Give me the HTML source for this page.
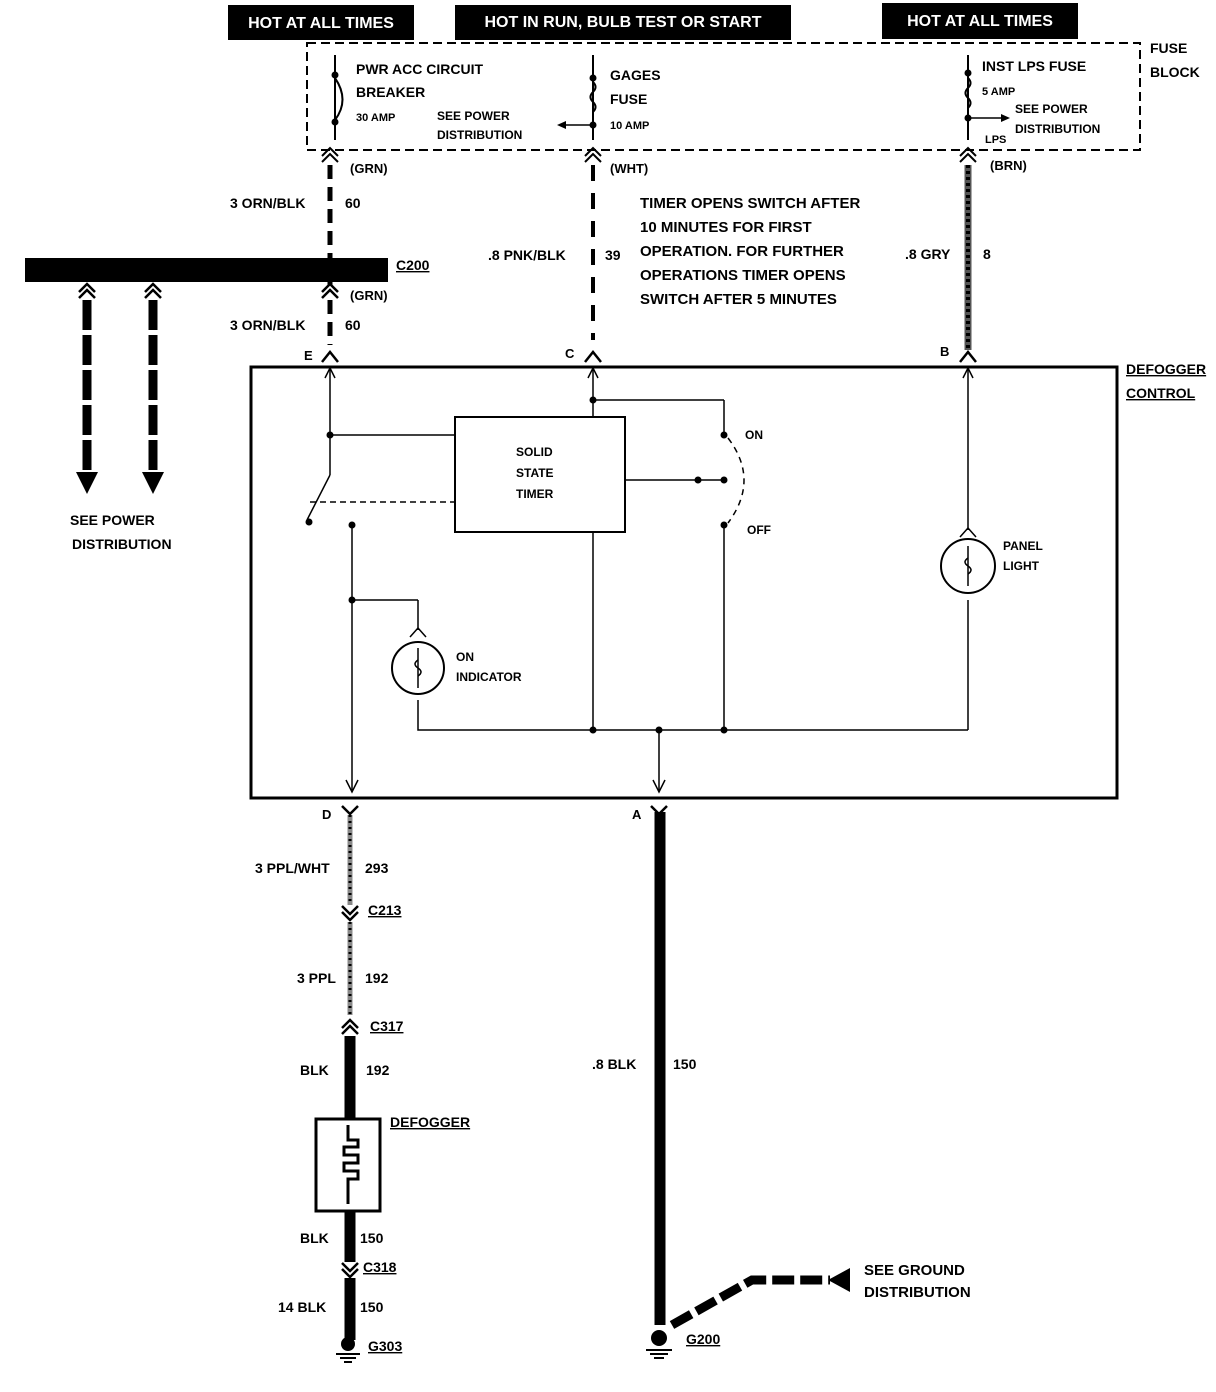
<!DOCTYPE html>
<html><head><meta charset="utf-8"><style>
html,body{margin:0;padding:0;background:#fff}
svg{display:block}
text{font-family:"Liberation Sans",sans-serif;font-weight:bold;fill:#000}
</style></head><body>
<svg width="1216" height="1392" viewBox="0 0 1216 1392" xmlns="http://www.w3.org/2000/svg">
<!-- header boxes -->
<rect x="228" y="5" width="186" height="35" fill="#000"/>
<text x="321" y="28" font-size="16" text-anchor="middle" fill="#fff" style="fill:#fff">HOT AT ALL TIMES</text>
<rect x="455" y="5" width="336" height="35" fill="#000"/>
<text x="623" y="27" font-size="16" text-anchor="middle" style="fill:#fff">HOT IN RUN,  BULB TEST OR START</text>
<rect x="882" y="3" width="196" height="36" fill="#000"/>
<text x="980" y="26" font-size="16" text-anchor="middle" style="fill:#fff">HOT AT ALL TIMES</text>

<!-- fuse block dashed -->
<rect x="307" y="43" width="833" height="107" fill="none" stroke="#000" stroke-width="2" stroke-dasharray="9,5"/>
<text x="1150" y="53" font-size="14">FUSE</text>
<text x="1150" y="77" font-size="14">BLOCK</text>
<!-- circuit breaker -->
<line x1="335" y1="55" x2="335" y2="140" stroke="#000" stroke-width="2"/>
<circle cx="335" cy="75" r="3.5"/><circle cx="335" cy="122" r="3.5"/>
<path d="M335 78 Q350 100 335 120" fill="none" stroke="#000" stroke-width="2"/>
<text x="356" y="74" font-size="14">PWR ACC CIRCUIT</text>
<text x="356" y="97" font-size="14">BREAKER</text>
<text x="356" y="121" font-size="11">30 AMP</text>
<text x="437" y="120" font-size="12">SEE POWER</text>
<text x="437" y="139" font-size="12">DISTRIBUTION</text>
<!-- gages fuse -->
<line x1="593" y1="55" x2="593" y2="140" stroke="#000" stroke-width="2"/>
<circle cx="593" cy="78" r="3.5"/><circle cx="593" cy="125" r="3.5"/>
<path d="M593 82 q5 5 0 10 q-5 5 0 10 q5 5 0 10" fill="none" stroke="#000" stroke-width="2"/>
<line x1="565" y1="125" x2="593" y2="125" stroke="#000" stroke-width="1.5"/>
<path d="M557 125 l9 -4 v8z"/>
<text x="610" y="80" font-size="14">GAGES</text>
<text x="610" y="104" font-size="14">FUSE</text>
<text x="610" y="129" font-size="11">10 AMP</text>
<!-- inst lps -->
<line x1="968" y1="55" x2="968" y2="140" stroke="#000" stroke-width="2"/>
<circle cx="968" cy="73" r="3.5"/><circle cx="968" cy="118" r="3.5"/>
<path d="M968 78 q5 5 0 10 q-5 5 0 10 q5 5 0 10" fill="none" stroke="#000" stroke-width="2"/>
<line x1="968" y1="118" x2="1003" y2="118" stroke="#000" stroke-width="1.5"/>
<path d="M1010 118 l-9 -4 v8z"/>
<text x="982" y="71" font-size="14">INST LPS FUSE</text>
<text x="982" y="95" font-size="11">5 AMP</text>
<text x="1015" y="113" font-size="12">SEE POWER</text>
<text x="1015" y="133" font-size="12">DISTRIBUTION</text>
<text x="985" y="143" font-size="11">LPS</text>

<!-- connectors at fuse block bottom -->
<g fill="none" stroke="#000" stroke-width="2">
<path d="M322 156 L330 148 L338 156"/><path d="M322 162 L330 154 L338 162"/>
<path d="M585 156 L593 148 L601 156"/><path d="M585 162 L593 154 L601 162"/>
<path d="M960 156 L968 148 L976 156"/><path d="M960 162 L968 154 L976 162"/>
</g>
<text x="350" y="173" font-size="13">(GRN)</text>
<text x="610" y="173" font-size="13">(WHT)</text>
<text x="990" y="170" font-size="13">(BRN)</text>

<!-- wire E upper -->
<line x1="330" y1="165" x2="330" y2="285" stroke="#000" stroke-width="5" stroke-dasharray="14,8"/>
<text x="230" y="208" font-size="14">3 ORN/BLK</text><text x="345" y="208" font-size="14">60</text>
<!-- C200 bar -->
<rect x="25" y="258" width="363" height="24" fill="#000"/>
<text x="396" y="270" font-size="14" text-decoration="underline">C200</text>
<g fill="none" stroke="#000" stroke-width="2.5">
<path d="M322 292 L330 284 L338 292"/><path d="M322 298 L330 290 L338 298"/>
<path d="M79 292 L87 284 L95 292"/><path d="M79 298 L87 290 L95 298"/>
<path d="M145 292 L153 284 L161 292"/><path d="M145 298 L153 290 L161 298"/>
</g>
<text x="350" y="300" font-size="13">(GRN)</text>
<line x1="330" y1="300" x2="330" y2="345" stroke="#000" stroke-width="5" stroke-dasharray="14,8"/>
<text x="230" y="330" font-size="14">3 ORN/BLK</text><text x="345" y="330" font-size="14">60</text>
<path d="M322 362 L330 352 L338 362" fill="none" stroke="#000" stroke-width="2.5"/>
<text x="304" y="360" font-size="13">E</text>

<!-- see power distribution arrows -->
<line x1="87" y1="300" x2="87" y2="475" stroke="#000" stroke-width="9" stroke-dasharray="30,5"/>
<line x1="153" y1="300" x2="153" y2="475" stroke="#000" stroke-width="9" stroke-dasharray="30,5"/>
<path d="M76 472 L98 472 L87 494z"/><path d="M142 472 L164 472 L153 494z"/>
<text x="70" y="525" font-size="14">SEE POWER</text>
<text x="72" y="549" font-size="14">DISTRIBUTION</text>

<!-- wire C -->
<line x1="593" y1="165" x2="593" y2="340" stroke="#000" stroke-width="4" stroke-dasharray="16,12"/>
<text x="488" y="260" font-size="14">.8 PNK/BLK</text><text x="605" y="260" font-size="14">39</text>
<path d="M585 362 L593 352 L601 362" fill="none" stroke="#000" stroke-width="2.5"/>
<text x="565" y="358" font-size="13">C</text>
<text x="640" y="208" font-size="15">TIMER OPENS SWITCH AFTER</text>
<text x="640" y="232" font-size="15">10 MINUTES FOR FIRST</text>
<text x="640" y="256" font-size="15">OPERATION.  FOR FURTHER</text>
<text x="640" y="280" font-size="15">OPERATIONS TIMER OPENS</text>
<text x="640" y="304" font-size="15">SWITCH AFTER 5 MINUTES</text>

<!-- wire B -->
<line x1="968" y1="165" x2="968" y2="350" stroke="#555" stroke-width="7"/>
<line x1="968" y1="165" x2="968" y2="350" stroke="#000" stroke-width="4" stroke-dasharray="3,3"/>
<text x="905" y="259" font-size="14">.8 GRY</text><text x="983" y="259" font-size="14">8</text>
<path d="M960 362 L968 352 L976 362" fill="none" stroke="#000" stroke-width="2.5"/>
<text x="940" y="356" font-size="13">B</text>

<!-- defogger control box -->
<rect x="251" y="367" width="866" height="431" fill="none" stroke="#000" stroke-width="3"/>
<text x="1126" y="374" font-size="14" text-decoration="underline">DEFOGGER</text>
<text x="1126" y="398" font-size="14" text-decoration="underline">CONTROL</text>

<g fill="none" stroke="#000" stroke-width="1.5">
<!-- E internal -->
<line x1="330" y1="368" x2="330" y2="475"/>
<path d="M325 378 L330 368 L335 378"/>
<line x1="330" y1="435" x2="455" y2="435"/>
<line x1="330" y1="475" x2="307" y2="520"/>
<line x1="310" y1="502" x2="455" y2="502" stroke-dasharray="6,4"/>
<line x1="352" y1="527" x2="352" y2="790"/>
<path d="M346 780 L352 792 L358 780"/>
<line x1="352" y1="600" x2="418" y2="600"/>
<line x1="418" y1="600" x2="418" y2="630"/>
<path d="M410 637 L418 628 L426 637"/>
<circle cx="418" cy="668" r="26" stroke-width="2"/>
<path d="M418 700 v30 h175"/>
<!-- timer -->
<rect x="455" y="417" width="170" height="115" stroke-width="2"/>
<line x1="593" y1="368" x2="593" y2="417"/>
<path d="M588 378 L593 368 L598 378"/>
<line x1="593" y1="400" x2="724" y2="400"/>
<line x1="724" y1="400" x2="724" y2="435"/>
<line x1="625" y1="480" x2="700" y2="480"/>
<line x1="700" y1="480" x2="724" y2="480"/>
<path d="M728 438 Q760 480 728 523" stroke-dasharray="6,5"/>
<line x1="724" y1="527" x2="724" y2="730"/>
<line x1="593" y1="532" x2="593" y2="730"/>
<line x1="593" y1="730" x2="968" y2="730"/>
<line x1="659" y1="730" x2="659" y2="790"/>
<path d="M653 780 L659 792 L665 780"/>
<!-- panel light -->
<line x1="968" y1="368" x2="968" y2="530"/>
<path d="M963 378 L968 368 L973 378"/>
<path d="M960 537 L968 528 L976 537"/>
<circle cx="968" cy="566" r="27" stroke-width="2"/>
<line x1="968" y1="600" x2="968" y2="730"/>
</g>
<circle cx="330" cy="435" r="3.5"/><circle cx="309" cy="522" r="3.5"/><circle cx="352" cy="525" r="3.5"/>
<circle cx="352" cy="600" r="3.5"/><circle cx="593" cy="400" r="3.5"/><circle cx="724" cy="435" r="3.5"/>
<circle cx="698" cy="480" r="3.5"/><circle cx="724" cy="480" r="3.5"/><circle cx="724" cy="525" r="3.5"/>
<circle cx="593" cy="730" r="3.5"/><circle cx="659" cy="730" r="3.5"/><circle cx="724" cy="730" r="3.5"/>
<text x="516" y="456" font-size="12">SOLID</text>
<text x="516" y="477" font-size="12">STATE</text>
<text x="516" y="498" font-size="12">TIMER</text>
<text x="745" y="439" font-size="12">ON</text>
<text x="747" y="534" font-size="12">OFF</text>
<text x="1003" y="550" font-size="12">PANEL</text>
<text x="1003" y="570" font-size="12">LIGHT</text>
<text x="456" y="661" font-size="12">ON</text>
<text x="456" y="681" font-size="12">INDICATOR</text>
<g fill="none" stroke="#000" stroke-width="1.5">
<line x1="418" y1="648" x2="418" y2="688"/><path d="M418 660 q-6 4 0 8 q6 4 0 8"/>
<line x1="968" y1="546" x2="968" y2="586"/><path d="M968 558 q-6 4 0 8 q6 4 0 8"/>
</g>

<!-- D wire -->
<path d="M342 806 L350 814 L358 806" fill="none" stroke="#000" stroke-width="2.5"/>
<text x="322" y="819" font-size="13">D</text>
<line x1="350" y1="815" x2="350" y2="905" stroke="#888" stroke-width="5"/>
<line x1="350" y1="815" x2="350" y2="905" stroke="#000" stroke-width="3" stroke-dasharray="2,4"/>
<text x="255" y="873" font-size="14">3 PPL/WHT</text><text x="365" y="873" font-size="14">293</text>
<g fill="none" stroke="#000" stroke-width="2.5">
<path d="M342 906 L350 914 L358 906"/><path d="M342 912 L350 920 L358 912"/>
</g>
<text x="368" y="915" font-size="14" text-decoration="underline">C213</text>
<line x1="350" y1="922" x2="350" y2="1015" stroke="#888" stroke-width="5"/>
<line x1="350" y1="922" x2="350" y2="1015" stroke="#000" stroke-width="3" stroke-dasharray="2,4"/>
<text x="297" y="983" font-size="14">3 PPL</text><text x="365" y="983" font-size="14">192</text>
<g fill="none" stroke="#000" stroke-width="2.5">
<path d="M342 1028 L350 1020 L358 1028"/><path d="M342 1034 L350 1026 L358 1034"/>
</g>
<text x="370" y="1031" font-size="14" text-decoration="underline">C317</text>
<line x1="350" y1="1036" x2="350" y2="1120" stroke="#000" stroke-width="11"/>
<text x="300" y="1075" font-size="14">BLK</text><text x="366" y="1075" font-size="14">192</text>
<rect x="316" y="1119" width="64" height="92" fill="none" stroke="#000" stroke-width="3"/>
<path d="M348 1125 v15 h10 v7 h-14 v8 h14 v8 h-14 v8 h14 v8 h-10 v25" fill="none" stroke="#000" stroke-width="3"/>
<text x="390" y="1127" font-size="14" text-decoration="underline">DEFOGGER</text>
<line x1="350" y1="1211" x2="350" y2="1262" stroke="#000" stroke-width="11"/>
<text x="300" y="1243" font-size="14">BLK</text><text x="360" y="1243" font-size="14">150</text>
<g fill="none" stroke="#000" stroke-width="2.5">
<path d="M342 1263 L350 1271 L358 1263"/><path d="M342 1269 L350 1277 L358 1269"/>
</g>
<text x="363" y="1272" font-size="14" text-decoration="underline">C318</text>
<line x1="350" y1="1278" x2="350" y2="1340" stroke="#000" stroke-width="11"/>
<text x="278" y="1312" font-size="14">14 BLK</text><text x="360" y="1312" font-size="14">150</text>
<circle cx="348" cy="1344" r="7"/>
<g stroke="#000" stroke-width="2"><line x1="336" y1="1354" x2="360" y2="1354"/><line x1="340" y1="1358" x2="356" y2="1358"/><line x1="344" y1="1362" x2="352" y2="1362"/></g>
<text x="368" y="1351" font-size="14" text-decoration="underline">G303</text>

<!-- A wire -->
<path d="M651 806 L659 814 L667 806" fill="none" stroke="#000" stroke-width="2.5"/>
<text x="632" y="819" font-size="13">A</text>
<line x1="660" y1="812" x2="660" y2="1325" stroke="#000" stroke-width="11"/>
<text x="592" y="1069" font-size="14">.8 BLK</text><text x="673" y="1069" font-size="14">150</text>
<circle cx="659" cy="1338" r="8"/>
<g stroke="#000" stroke-width="2"><line x1="646" y1="1350" x2="672" y2="1350"/><line x1="650" y1="1354" x2="668" y2="1354"/><line x1="654" y1="1358" x2="664" y2="1358"/></g>
<text x="686" y="1344" font-size="14" text-decoration="underline">G200</text>
<path d="M672 1325 L752 1280 L830 1280" fill="none" stroke="#000" stroke-width="9" stroke-dasharray="22,6"/>
<path d="M828 1280 L850 1268 L850 1292z"/>
<text x="864" y="1275" font-size="15">SEE GROUND</text>
<text x="864" y="1297" font-size="15">DISTRIBUTION</text>
</svg>
</body></html>
